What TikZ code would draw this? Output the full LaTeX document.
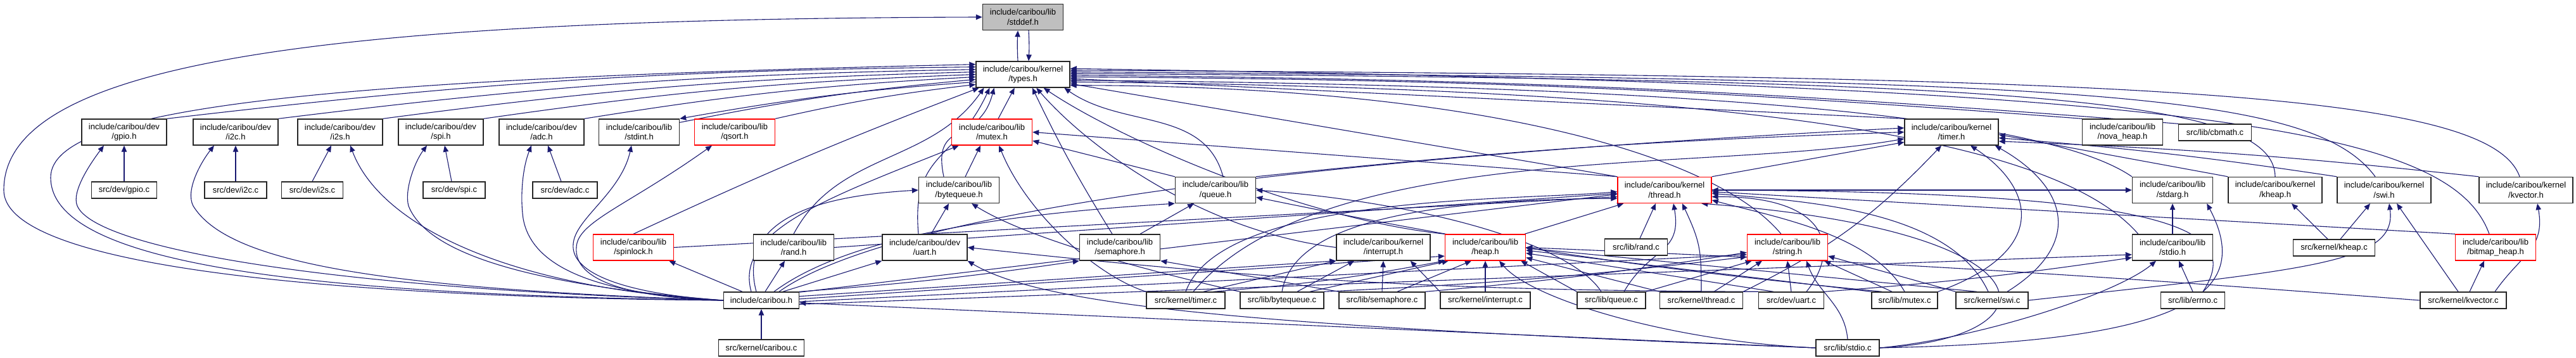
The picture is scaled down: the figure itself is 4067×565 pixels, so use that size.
\documentclass[tikz,border=0pt]{standalone}
\usepackage{fontspec}
\setmainfont{Liberation Sans}
\usetikzlibrary{arrows.meta,calc}
\definecolor{edgec}{HTML}{191970}
\definecolor{boxgray}{HTML}{BFBFBF}
\pgfdeclarelayer{bg}
\pgfsetlayers{bg,main}
\tikzset{
  every node/.style={font=\fontsize{6.5}{7.8}\selectfont, align=center, inner sep=0pt},
  hb/.style={draw=black!85, line width=0.7pt, fill=white, minimum height=20.5pt},
  sb/.style={draw=black!85, line width=0.7pt, fill=white, minimum height=13pt},
  rb/.style={hb, draw=red},
  wl/.style={minimum width=63.5pt},
  wd/.style={minimum width=67pt},
  wk/.style={minimum width=74pt},
  e/.style={draw=edgec, line width=0.55pt, -{Triangle[length=5pt,width=4.2pt]}},
}
\begin{document}
\begin{tikzpicture}[x=0.5pt,y=0.5pt]
\useasboundingbox (0,0) rectangle (4067,565);
% row A,B
\node[hb,wl,fill=boxgray] (stddef) at (1615,538) {include/caribou/lib\\/stddef.h};
\node[hb,wk] (types) at (1615,447.5) {include/caribou/kernel\\/types.h};
% row C
\node[hb,wd] (gpio) at (196,356.5) {include/caribou/dev\\/gpio.h};
\node[hb,wd] (i2c) at (372,356.5) {include/caribou/dev\\/i2c.h};
\node[hb,wd] (i2s) at (537,356.5) {include/caribou/dev\\/i2s.h};
\node[hb,wd] (spi) at (696,356.5) {include/caribou/dev\\/spi.h};
\node[hb,wd] (adc) at (855,356.5) {include/caribou/dev\\/adc.h};
\node[hb,wl] (stdint) at (1009,356.5) {include/caribou/lib\\/stdint.h};
\node[rb,wl] (qsort) at (1160,356.5) {include/caribou/lib\\/qsort.h};
\node[rb,wl] (mutex) at (1566,356.5) {include/caribou/lib\\/mutex.h};
\node[hb,wk] (timerh) at (3081,356.5) {include/caribou/kernel\\/timer.h};
\node[hb,wl] (nova) at (3351,356.5) {include/caribou/lib\\/nova\_heap.h};
\node[sb,minimum width=57.5pt] (cbmath) at (3497,356) {src/lib/cbmath.c};
% row D
\node[sb,minimum width=51.5pt] (gpioc) at (196,265) {src/dev/gpio.c};
\node[sb,minimum width=49pt] (i2cc) at (372,265) {src/dev/i2c.c};
\node[sb,minimum width=48.5pt] (i2sc) at (493,265) {src/dev/i2s.c};
\node[sb,minimum width=49pt] (spic) at (717,265) {src/dev/spi.c};
\node[sb,minimum width=51pt] (adcc) at (892,265) {src/dev/adc.c};
\node[hb,wl] (bytequeueh) at (1514,265) {include/caribou/lib\\/bytequeue.h};
\node[hb,wl] (queueh) at (1919,265) {include/caribou/lib\\/queue.h};
\node[rb,wk] (threadh) at (2628,265) {include/caribou/kernel\\/thread.h};
\node[hb,wl] (stdarg) at (3430,265) {include/caribou/lib\\/stdarg.h};
\node[hb,wk] (kheaph) at (3592,265) {include/caribou/kernel\\/kheap.h};
\node[hb,wk] (swih) at (3764,265) {include/caribou/kernel\\/swi.h};
\node[hb,wk] (kvectorh) at (3988,265) {include/caribou/kernel\\/kvector.h};
% row E
\node[rb,wl] (spinlock) at (1000,174.5) {include/caribou/lib\\/spinlock.h};
\node[hb,wl] (randh) at (1253,174.5) {include/caribou/lib\\/rand.h};
\node[hb,wd] (uarth) at (1460,174.5) {include/caribou/dev\\/uart.h};
\node[hb,wl] (semh) at (1768,174.5) {include/caribou/lib\\/semaphore.h};
\node[hb,wk] (inth) at (2184,174.5) {include/caribou/kernel\\/interrupt.h};
\node[rb,wl] (heaph) at (2345,174.5) {include/caribou/lib\\/heap.h};
\node[sb,minimum width=49.5pt] (randc) at (2583,175) {src/lib/rand.c};
\node[rb,wl] (stringh) at (2822,174.5) {include/caribou/lib\\/string.h};
\node[hb,wl] (stdioh) at (3430,174.5) {include/caribou/lib\\/stdio.h};
\node[sb,minimum width=64.5pt] (kheapc) at (3685,174) {src/kernel/kheap.c};
\node[rb,wl] (bitmap) at (3940,174.5) {include/caribou/lib\\/bitmap\_heap.h};
% row F
\node[sb,minimum width=59.5pt] (caribouh) at (1202,91) {include/caribou.h};
\node[sb,minimum width=62pt] (timerc) at (1872,91) {src/kernel/timer.c};
\node[sb,minimum width=66pt] (bytequeuec) at (2024,91) {src/lib/bytequeue.c};
\node[sb,minimum width=68pt] (semc) at (2182,91) {src/lib/semaphore.c};
\node[sb,minimum width=71pt] (intc) at (2345,91) {src/kernel/interrupt.c};
\node[sb,minimum width=54pt] (queuec) at (2544,91) {src/lib/queue.c};
\node[sb,minimum width=65.5pt] (threadc) at (2686,91) {src/kernel/thread.c};
\node[sb,minimum width=51.5pt] (uartc) at (2828,91) {src/dev/uart.c};
\node[sb,minimum width=52pt] (mutexc) at (3007,91) {src/lib/mutex.c};
\node[sb,minimum width=57pt] (swic) at (3145,91) {src/kernel/swi.c};
\node[sb,minimum width=50.5pt] (errnoc) at (3462,91) {src/lib/errno.c};
\node[sb,minimum width=68pt] (kvectorc) at (3889,91) {src/kernel/kvector.c};
% row G
\node[sb,minimum width=67.5pt] (cariboucc) at (1202,16) {src/kernel/caribou.c};
\node[sb,minimum width=50pt] (stdioc) at (2917,16) {src/lib/stdio.c};

\begin{pgfonlayer}{bg}
% stddef <-> types
\draw[e] ([xshift=-4pt]types.north) to[bend left=3] ([xshift=-4pt]stddef.south);
\draw[e] ([xshift=4.5pt]stddef.south) to[bend left=3] ([xshift=4.5pt]types.north);
\draw[e] (caribouh.west) .. controls (600,95) and (6,135) .. (6,265) .. controls (6,465) and (500,535) .. (stddef.west);
\draw[e] (caribouh.west) .. controls (500,100) and (80,145) .. (80,285) .. controls (80,395) and (500,440) .. (types.168);
% left headers -> types
\draw[e] (gpio.north east) to[bend left=3] (types.171);
\draw[e] (i2c.north east) to[bend left=3] (types.174);
\draw[e] (i2s.north east) to[bend left=3] (types.177);
\draw[e] (spi.north east) to[bend left=3] (types.180);
\draw[e] (adc.north east) to[bend left=3] (types.183);
\draw[e] ([yshift=-3pt]stdint.north east) to[bend left=3] (types.186);
\draw[e] (types.189) to[bend right=3] (stdint.north east);
\draw[e] (qsort.north east) to[bend left=3] (types.192);
\draw[e] (spinlock.north) to[bend left=2] (types.-163);
\draw[e] (randh.north) to[out=62,in=-125] (types.-161);
\draw[e] ([xshift=-5pt]uarth.north) to[out=95,in=-115,looseness=1.3] (types.-158);
\draw[e] ([xshift=-12pt]bytequeueh.north) to[out=102,in=-105,looseness=1.5] (types.-155);
\draw[e] ([xshift=5pt]mutex.north) -- (types.-122);
\draw[e] ([xshift=-6pt]semh.north) to[bend left=3] (types.-55);
\draw[e] ([xshift=6pt]queueh.north) to[out=105,in=-35] (types.-18);
\draw[e] (inth.west) .. controls (1900,200) and (1720,330) .. (types.-45);
\draw[e] (heaph.north west) .. controls (2050,220) and (1760,350) .. (types.-33);
\draw[e] (threadh.north west) -- (types.-11);
\draw[e] ([xshift=-5pt]stringh.north) .. controls (2700,330) and (2300,430) .. (types.-13);
% right headers -> types
\draw[e] (timerh.north west) -- (types.-5);
\draw[e] (nova.north west) to[bend right=2] (types.-3);
\draw[e] (cbmath.north west) to[bend right=2] (types.-1);
\draw[e] (stdarg.north west) .. controls (3230,380) and (2700,430) .. (types.-7);
\draw[e] ([xshift=5pt]stdioh.north west) .. controls (3250,340) and (2800,425) .. (types.-9);
\draw[e] (kheaph.north) .. controls (3590,410) and (3200,440) .. (types.1);
\draw[e] ([xshift=-7pt]swih.north) .. controls (3650,420) and (3300,440) .. (types.3);
\draw[e] ([xshift=-5pt]kvectorh.north) .. controls (3930,420) and (3400,445) .. (types.5);
\draw[e] ([xshift=-5pt]bitmap.north) .. controls (3870,360) and (3500,430) .. (types.7);
% mutex
\draw[e] (threadh.north west) -- (mutex.east);
\draw[e] (queueh.north west) -- (mutex.-12);
\draw[e] ([xshift=5pt]bytequeueh.north) -- ([xshift=-9pt]mutex.south);
\draw[e] ([xshift=-8pt]caribouh.north) .. controls (1160,200) and (1300,250) .. ([xshift=6pt]mutex.south west);
\draw[e] (timerc.north west) .. controls (1730,130) and (1620,230) .. (mutex.-62);
% caribou.h
\draw[e] ([xshift=-4pt]caribouh.north) .. controls (1165,215) and (1280,255) .. (bytequeueh.west);
\draw[e] ([xshift=10pt]caribouh.north) .. controls (1330,185) and (1550,225) .. (queueh.south west);
\draw[e] ([xshift=14pt]caribouh.north) .. controls (1350,190) and (1750,300) .. (timerh.175);
\draw[e] ([xshift=-15pt]caribouh.north) -- ([xshift=-4pt]spinlock.south east);
\draw[e] ([xshift=3pt]caribouh.north) -- ([xshift=-7pt]randh.south);
\draw[e] ([xshift=17pt]caribouh.north) -- (uarth.south west);
\draw[e] (caribouh.north east) to[bend right=2] (semh.south west);
\draw[e] (caribouh.12) -- (threadh.-175);
\draw[e] (caribouh.6) -- (inth.south west);
\draw[e] (caribouh.2) -- (heaph.-168);
\draw[e] (caribouh.-2) -- (stringh.-170);
\draw[e] (caribouh.-6) -- (stdioh.-170);
\draw[e] (caribouh.west) .. controls (500,110) and (150,175) .. (122,240) .. controls (112,263) and (145,310) .. ([xshift=-16pt]gpio.south);
\draw[e] (caribouh.west) .. controls (600,110) and (360,150) .. (305,240) .. controls (292,265) and (318,310) .. ([xshift=-17pt]i2c.south);
\draw[e] (caribouh.west) .. controls (800,110) and (600,210) .. ([xshift=8pt]i2s.south);
\draw[e] (caribouh.west) .. controls (900,110) and (680,150) .. (645,240) .. controls (638,265) and (655,310) .. ([xshift=-11pt]spi.south);
\draw[e] (caribouh.west) .. controls (950,100) and (840,140) .. (826,220) .. controls (821,255) and (825,300) .. ([xshift=-8pt]adc.south);
\draw[e] (caribouh.west) .. controls (1000,100) and (900,130) .. (905,180) .. controls (908,220) and (980,260) .. ([xshift=-6pt]stdint.south);
\draw[e] (caribouh.west) .. controls (1000,95) and (905,120) .. (910,175) .. controls (912,215) and (990,240) .. ([xshift=-18pt]qsort.south);
\draw[e] (cariboucc.north) -- (caribouh.south);
% dev sources
\draw[e] (gpioc.north) -- (gpio.south);
\draw[e] (i2cc.north) -- (i2c.south);
\draw[e] (i2sc.north) -- ([xshift=-7pt]i2s.south);
\draw[e] ([xshift=-2pt]spic.north) -- ([xshift=3pt]spi.south);
\draw[e] ([xshift=-3pt]adcc.north) -- ([xshift=5pt]adc.south);
% middle headers
\draw[e] ([xshift=5pt]uarth.north) -- ([xshift=-8pt]bytequeueh.south);
\draw[e] ([xshift=16pt]semh.north) -- ([xshift=-17pt]queueh.south);
\draw[e] (spinlock.east) -- (threadh.-172);
\draw[e] (randh.east) -- (threadh.-176);
\draw[e] ([xshift=-1pt]heaph.north east) -- ([xshift=5pt]threadh.south west);
\draw[e] ([xshift=3pt]randc.north) -- ([xshift=-7pt]threadh.south);
\draw[e] (threadh.north east) -- (timerh.-168);
\draw[e] (queueh.north east) to[bend left=2] (timerh.180);
\draw[e] (threadh.east) -- (stdarg.west);
\draw[e] (bitmap.north west) -- (threadh.-2);
\draw[e] (stdioh.north) -- (stdarg.south);
\draw[e] (kheaph.north west) -- (timerh.-3);
\draw[e] (swih.north west) to[bend right=2] (timerh.-7);
\draw[e] (kvectorh.north west) to[bend right=2] (timerh.-11);
% timer.c
\draw[e] (timerc.north) to[out=70,in=185,looseness=0.6] (threadh.-178);
\draw[e] ([xshift=6pt]timerc.north) to[out=50,in=190,looseness=0.7] (timerh.-172);
\draw[e] ([xshift=14pt]timerc.north) -- (inth.south west);
\draw[e] ([xshift=22pt]timerc.north) to[bend right=3] (heaph.south west);
% bytequeue.c
\draw[e] (bytequeuec.north west) .. controls (1800,140) and (1620,190) .. ([xshift=10pt]bytequeueh.south);
\draw[e] (bytequeuec.north) .. controls (2040,200) and (2200,250) .. (threadh.-170);
\draw[e] ([xshift=12pt]bytequeuec.north) -- ([xshift=-23pt]inth.south);
\draw[e] ([xshift=22pt]bytequeuec.north) -- ([xshift=3pt]heaph.south west);
\draw[e] (bytequeuec.north east) to[bend right=2] (stringh.-167);
% semaphore.c
\draw[e] (semc.north west) -- (semh.south east);
\draw[e] (semc.north) -- (inth.south);
\draw[e] ([xshift=12pt]semc.north) -- ([xshift=-11pt]heaph.south);
\draw[e] (semc.north east) to[bend right=2] (stringh.-173);
% interrupt.c
\draw[e] (intc.north west) -- ([xshift=-16pt]inth.south east);
\draw[e] (intc.north) -- (heaph.south);
% queue.c
\draw[e] ([xshift=10pt]queuec.north) to[out=60,in=-80,looseness=1.3] ([xshift=7pt]threadh.south);
\draw[e] ([xshift=-8pt]queuec.north) .. controls (2480,180) and (2250,245) .. (queueh.east);
\draw[e] (queuec.north west) -- ([xshift=-4pt]heaph.south east);
\draw[e] (queuec.north east) -- ([xshift=4pt]stringh.south west);
% thread.c
\draw[e] (threadc.north) to[out=90,in=-65,looseness=1.2] ([xshift=14pt]threadh.south);
\draw[e] ([xshift=10pt]threadc.north) -- ([xshift=-20pt]stringh.south);
\draw[e] (threadc.north west) -- (heaph.-14);
\draw[e] (threadc.north east) to[bend right=10] ([xshift=-8pt]timerh.south);
% uart.c
\draw[e] (uartc.north) -- (stringh.south);
\draw[e] ([xshift=12pt]uartc.north) .. controls (2905,170) and (2890,255) .. (threadh.-8);
\draw[e] (uartc.north west) to[bend left=3] (uarth.east);
\draw[e] (uartc.north east) to[bend right=2] (stdioh.-166);
\draw[e] ([xshift=-14pt]uartc.north) -- (heaph.-8);
% mutex.c
\draw[e] (mutexc.north east) .. controls (3240,170) and (3210,270) .. ([xshift=15pt]timerh.south);
\draw[e] (mutexc.north) to[out=120,in=-15,looseness=0.8] (threadh.-12);
\draw[e] (mutexc.north west) -- (heaph.-4);
\draw[e] ([xshift=-10pt]mutexc.north) -- ([xshift=-3pt]stringh.south east);
\draw[e] ([xshift=-18pt]mutexc.north) to[bend left=3] (queueh.-10);
% swi.c
\draw[e] (swic.east) .. controls (3650,140) and (3785,150) .. ([xshift=4pt]swih.south);
\draw[e] ([xshift=12pt]swic.north) .. controls (3290,180) and (3265,270) .. ([xshift=-3pt]timerh.south east);
\draw[e] ([xshift=-3pt]swic.north) to[out=115,in=-5,looseness=0.8] (threadh.-4);
\draw[e] (swic.north west) -- (stringh.-12);
\draw[e] ([xshift=-12pt]swic.north) -- (heaph.-1);
% errno.c
\draw[e] (errnoc.north) -- ([xshift=5pt]stdioh.south);
\draw[e] ([xshift=8pt]errnoc.north) .. controls (3540,200) and (3450,262) .. (threadh.east);
% kvector.c, kheap.c
\draw[e] ([xshift=5pt]kvectorc.north) -- ([xshift=-9pt]bitmap.south);
\draw[e] ([xshift=-4pt]kvectorc.north) -- ([xshift=10pt]swih.south);
\draw[e] ([xshift=25pt]kvectorc.north) to[out=55,in=-80,looseness=1.2] ([xshift=9pt]kvectorh.south);
\draw[e] (kvectorc.west) to[bend right=1] (heaph.east);
\draw[e] ([xshift=-5pt]kheapc.north) -- ([xshift=13pt]kheaph.south);
\draw[e] ([xshift=5pt]kheapc.north) -- ([xshift=-11pt]swih.south);
% stdio.c
\draw[e] (stdioc.west) -- ([yshift=-2pt]caribouh.east);
\draw[e] (stdioc.west) .. controls (2000,50) and (1650,80) .. (uarth.south east);
\draw[e] (stdioc.west) .. controls (2650,25) and (2420,90) .. ([xshift=11pt]heaph.south);
\draw[e] (stdioc.north) to[out=95,in=-70] ([xshift=15pt]stringh.south);
\draw[e] (stdioc.east) .. controls (3120,30) and (3340,100) .. ([xshift=-13pt]stdioh.south);
\draw[e] (stdioc.east) .. controls (3450,25) and (3560,100) .. ([xshift=-5pt]stdarg.south east);
\draw[e] (stdioc.east) .. controls (3250,30) and (3260,200) .. (threadh.-20);
\end{pgfonlayer}
\end{tikzpicture}
\end{document}
